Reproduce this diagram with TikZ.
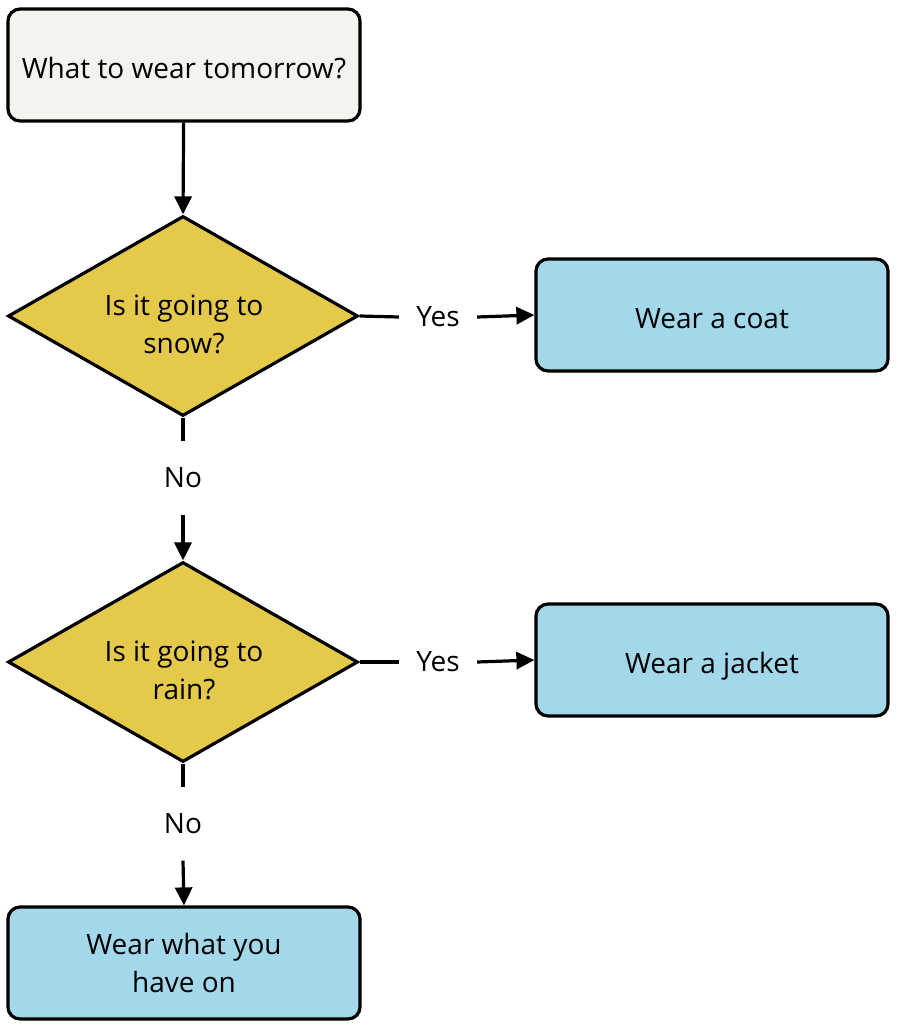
\documentclass[tikz,border=0pt]{standalone}
\usepackage{fontspec}
\setmainfont{Open Sans}
\usetikzlibrary{shapes.geometric,arrows.meta}
\definecolor{startfill}{HTML}{F3F3EF}
\definecolor{decfill}{HTML}{E5C94B}
\definecolor{endfill}{HTML}{A3D8EB}
\tikzset{
  base/.style={draw=black, line width=3.2pt, align=center, font=\fontsize{28}{38}\selectfont, text=black, inner sep=0pt},
  startbox/.style={base, rectangle, rounded corners=12pt, fill=startfill, minimum width=352pt, minimum height=112pt},
  endbox/.style={base, rectangle, rounded corners=12pt, fill=endfill, minimum width=352pt, minimum height=112pt},
  oneline/.style={text height=27pt, text depth=1pt},
  decbox/.style={base, diamond, shape aspect=1.74, fill=decfill, minimum width=350pt, minimum height=200pt},
  dectext/.style={align=center, font=\fontsize{28}{38}\selectfont, inner sep=0pt},
  lbl/.style={font=\fontsize{28}{30}\selectfont, inner sep=0pt},
  conn/.style={line width=3.2pt},
  arr/.style={line width=3.2pt, -{Triangle[length=18pt,width=17pt]}}
}
\begin{document}
\begin{tikzpicture}[x=1pt,y=-1pt]
\useasboundingbox (0,0) rectangle (898,1028);
\node[startbox, oneline] (start) at (184,65) {What to wear tomorrow?};
\node[decbox] (d1) at (183,316) {};
\node[dectext] (d1t) at (184,324) {Is it going to\\snow?};
\node[endbox, oneline] (coat) at (712,315) {Wear a coat};
\node[decbox] (d2) at (183,662) {};
\node[dectext] (d2t) at (184,670) {Is it going to\\rain?};
\node[endbox, oneline] (jacket) at (712,660) {Wear a jacket};
\node[endbox] (have) at (184,963) {Wear what you\\have on};
\node[lbl, minimum width=78pt] (yes1) at (438,317) {Yes};
\node[lbl, minimum width=78pt] (yes2) at (438,662) {Yes};
\node[lbl, minimum height=73pt] (no1) at (183,478) {No};
\node[lbl, minimum height=73pt] (no2) at (183,824) {No};
\draw[arr] (start) -- (d1.north);
\draw[conn] (d1.east) -- (yes1.west);
\draw[arr] (yes1.east) -- (coat.west);
\draw[conn] (d1.south) -- (no1.north);
\draw[arr] (no1.south) -- (d2.north);
\draw[conn] (d2.east) -- (yes2.west);
\draw[arr] (yes2.east) -- (jacket.west);
\draw[conn] (d2.south) -- (no2.north);
\draw[arr] (no2.south) -- (have.north);
\end{tikzpicture}
\end{document}
